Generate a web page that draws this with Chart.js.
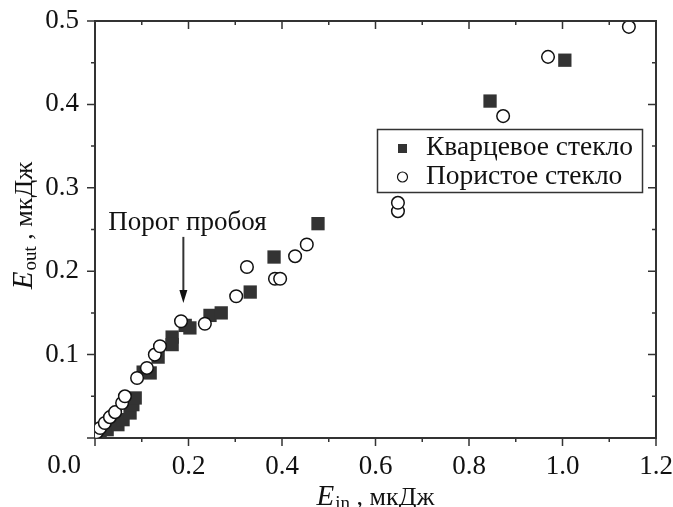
<!DOCTYPE html>
<html>
<head>
<meta charset="utf-8">
<script src="https://cdn.jsdelivr.net/npm/chart.js@4"></script>
<style>
	html, body { margin: 0; padding: 0; background: #fff; }
	#wrap { width: 673px; height: 507px; }
</style>
</head>
<body>
<div id="wrap"><canvas id="plot" width="673" height="507"></canvas></div>
<script>
// Кварцевое стекло (filled squares)
const quartzIn = [0.011, 0.026, 0.049, 0.060, 0.075, 0.081, 0.086, 0.103, 0.118, 0.135, 0.165, 0.165, 0.193, 0.203, 0.246, 0.270, 0.332, 0.383, 0.477, 0.845, 1.005];
const quartzOut = [0.006, 0.010, 0.016, 0.022, 0.030, 0.040, 0.048, 0.079, 0.078, 0.097, 0.121, 0.112, 0.135, 0.132, 0.147, 0.150, 0.175, 0.217, 0.257, 0.404, 0.453];

// Пористое стекло (open circles)
const porousIn = [0.004, 0.011, 0.021, 0.032, 0.043, 0.058, 0.064, 0.090, 0.111, 0.128, 0.139, 0.184, 0.235, 0.302, 0.325, 0.385, 0.396, 0.428, 0.453, 0.648, 0.648, 0.873, 0.969, 1.142];
const porousOut = [0.007, 0.012, 0.018, 0.025, 0.031, 0.042, 0.050, 0.072, 0.084, 0.100, 0.110, 0.140, 0.137, 0.170, 0.205, 0.191, 0.191, 0.218, 0.232, 0.272, 0.282, 0.386, 0.457, 0.493];

const seriesNames = ['Кварцевое стекло', 'Пористое стекло'];
const xTitle = ['E', 'in', ' , мкДж'];
const yTitle = ['E', 'out', ' , мкДж'];
const noteText = 'Порог пробоя';
const notePoint = {x: 0.189, y: 0.162};

const axisColor = '#333';
const serif = '"Liberation Serif", "DejaVu Serif", serif';

function toPoints(xs, ys) {
	return xs.map((v, i) => ({x: v, y: ys[i]}));
}

// draws a title like E_in , мкДж at the current origin, centred
function drawTitle(ctx, parts) {
	const bigItalic = 'italic 29px ' + serif;
	const sub = '19px ' + serif;
	const rest = '26px ' + serif;
	ctx.font = bigItalic;
	const w1 = ctx.measureText(parts[0]).width;
	ctx.font = sub;
	const w2 = ctx.measureText(parts[1]).width;
	ctx.font = rest;
	const w3 = ctx.measureText(parts[2]).width;
	let x = -(w1 + w2 + w3 + 1) / 2;
	ctx.textBaseline = 'alphabetic';
	ctx.textAlign = 'left';
	ctx.font = bigItalic;
	ctx.fillText(parts[0], x, 9);
	x += w1 + 1;
	ctx.font = sub;
	ctx.fillText(parts[1], x, 13);
	x += w2;
	ctx.font = rest;
	ctx.fillText(parts[2], x, 9);
}

const framePlugin = {
	id: 'frame',
	afterDraw(chart) {
		const ctx = chart.ctx;
		const a = chart.chartArea;
		const xs = chart.scales.x;
		const ys = chart.scales.y;
		ctx.save();
		ctx.strokeStyle = axisColor;
		ctx.fillStyle = '#111';

		// top and right frame
		ctx.lineWidth = 2;
		ctx.beginPath();
		ctx.moveTo(a.left, a.top);
		ctx.lineTo(a.right, a.top);
		ctx.lineTo(a.right, a.bottom);
		ctx.stroke();

		// tick marks, out on bottom/left, in on top/right
		ctx.lineWidth = 1.5;
		ctx.beginPath();
		for (let i = 0; i <= 12; i++) {
			const px = xs.getPixelForValue(i / 10);
			const len = i % 2 === 0 ? 8 : 4;
			ctx.moveTo(px, a.bottom);
			ctx.lineTo(px, a.bottom + len);
			ctx.moveTo(px, a.top);
			ctx.lineTo(px, a.top + len);
		}
		for (let i = 0; i <= 10; i++) {
			const py = ys.getPixelForValue(i / 20);
			const len = i % 2 === 0 ? 8 : 4;
			ctx.moveTo(a.left - len, py);
			ctx.lineTo(a.left, py);
			ctx.moveTo(a.right - len, py);
			ctx.lineTo(a.right, py);
		}
		ctx.stroke();

		// shared origin label
		ctx.font = '27px ' + serif;
		ctx.textAlign = 'center';
		ctx.textBaseline = 'middle';
		ctx.fillText('0.0', 64, 466);

		// axis titles
		ctx.save();
		ctx.translate((a.left + a.right) / 2, 496);
		drawTitle(ctx, xTitle);
		ctx.restore();
		ctx.save();
		ctx.translate(23, (a.top + a.bottom) / 2 - 4);
		ctx.rotate(-Math.PI / 2);
		drawTitle(ctx, yTitle);
		ctx.restore();

		// breakdown threshold note with arrow
		const tx = xs.getPixelForValue(notePoint.x);
		const ty = ys.getPixelForValue(notePoint.y);
		ctx.font = '27px ' + serif;
		ctx.textAlign = 'center';
		ctx.textBaseline = 'middle';
		ctx.fillText(noteText, tx + 4, ty - 80);
		ctx.lineWidth = 2;
		ctx.beginPath();
		ctx.moveTo(tx, ty - 66);
		ctx.lineTo(tx, ty - 10);
		ctx.stroke();
		ctx.beginPath();
		ctx.moveTo(tx, ty);
		ctx.lineTo(tx - 4, ty - 13);
		ctx.lineTo(tx + 4, ty - 13);
		ctx.closePath();
		ctx.fill();

		// legend
		ctx.lineWidth = 1.5;
		ctx.strokeRect(377.5, 129.5, 265, 63);
		ctx.fillStyle = '#333';
		ctx.fillRect(398, 144, 9, 9);
		ctx.strokeStyle = '#111';
		ctx.lineWidth = 1.2;
		ctx.beginPath();
		ctx.arc(402.5, 177, 5, 0, Math.PI * 2);
		ctx.stroke();
		ctx.fillStyle = '#111';
		ctx.font = '27.5px ' + serif;
		ctx.textAlign = 'left';
		ctx.textBaseline = 'middle';
		ctx.fillText(seriesNames[0], 426, 148);
		ctx.fillText(seriesNames[1], 426, 177);
		ctx.restore();
	}
};

const chart = new Chart(document.getElementById('plot'), {
	type: 'scatter',
	data: {
		datasets: [
			{
				label: seriesNames[0],
				data: toPoints(quartzIn, quartzOut),
				pointStyle: 'rect',
				pointRadius: 9.4,
				backgroundColor: '#333',
				borderColor: '#333',
				borderWidth: 0,
				order: 2
			},
			{
				label: seriesNames[1],
				data: toPoints(porousIn, porousOut),
				pointStyle: 'circle',
				pointRadius: 6.3,
				backgroundColor: '#fff',
				borderColor: '#111',
				borderWidth: 1.5,
				order: 1
			}
		]
	},
	options: {
		responsive: false,
		animation: false,
		layout: { padding: { top: 21, right: 17, left: 0, bottom: 0 } },
		plugins: {
			legend: { display: false },
			tooltip: { enabled: false }
		},
		scales: {
			x: {
				type: 'linear',
				min: 0,
				max: 1.2,
				afterFit: (scale) => {
					scale.height = 69;
					scale.paddingLeft = 0;
					scale.paddingRight = 0;
				},
				grid: { display: false, drawTicks: false },
				border: { color: axisColor, width: 2 },
				ticks: {
					stepSize: 0.2,
					padding: 13,
					color: '#111',
					font: { family: serif, size: 27 },
					callback: (v) => v === 0 ? '' : v.toFixed(1)
				}
			},
			y: {
				type: 'linear',
				min: 0,
				max: 0.5,
				afterFit: (scale) => {
					scale.width = 95;
					scale.paddingTop = 0;
					scale.paddingBottom = 0;
				},
				grid: { display: false, drawTicks: false },
				border: { color: axisColor, width: 2 },
				ticks: {
					stepSize: 0.1,
					padding: 16,
					color: '#111',
					font: { family: serif, size: 27 },
					callback: (v) => v === 0 ? '' : v.toFixed(1)
				}
			}
		}
	},
	plugins: [framePlugin]
});
</script>
</body>
</html>
